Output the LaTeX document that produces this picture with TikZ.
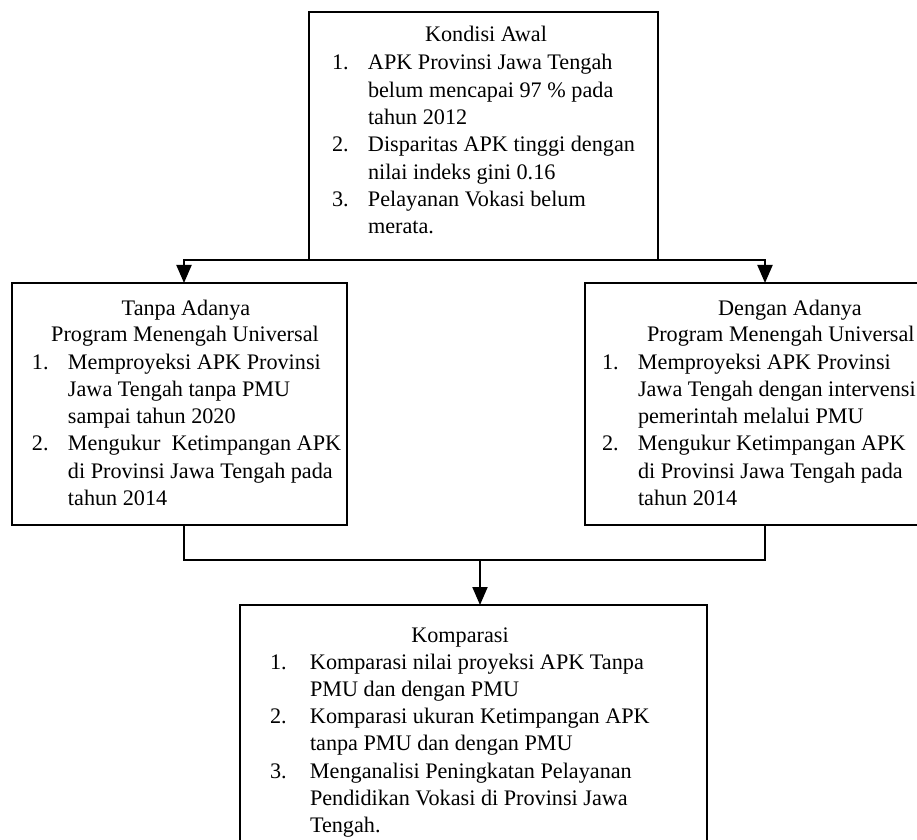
\documentclass[tikz,border=0pt]{standalone}
\usepackage{fontspec}
\setmainfont{Liberation Serif}
\usetikzlibrary{arrows.meta}
\newcommand\numbox[2]{\makebox[#1][l]{#2}}
\begin{document}
\begin{tikzpicture}[x=0.5pt,y=-0.5pt,
 box/.style={draw, line width=0.9pt, inner sep=0pt, outer sep=0pt, anchor=north west},
 txt/.style={inner sep=0pt, outer sep=0pt, font=\fontsize{11.1pt}{13.65pt}\selectfont},
 conn/.style={line width=1pt},
 tip/.tip={Triangle[width=7.5pt,length=9pt]},
 arr/.style={conn, -tip}]
\useasboundingbox (0,0) rectangle (917,840);
\clip (0,0) rectangle (917,840);
% boxes
\node[box, minimum width=174.5pt, minimum height=124pt] (top) at (309,12) {};
\node[box, minimum width=167.5pt, minimum height=121pt] (left) at (12,283) {};
\node[box, minimum width=175pt, minimum height=121pt] (right) at (585,283) {};
\node[box, minimum width=233.5pt, minimum height=125pt] (bot) at (240,605) {};
% connectors
\coordinate (la) at (184,283);
\coordinate (ta) at (184,260);
\coordinate (tb) at (765,260);
\coordinate (ra) at (765,283);
\draw[conn, tip-tip] (la) -- (ta) -- (tb) -- (ra);
\coordinate (lb) at (184,525);
\coordinate (lm) at (184,560);
\coordinate (rm) at (765,560);
\coordinate (rb) at (765,525);
\draw[conn] (lb) -- (lm) -- (rm) -- (rb);
\coordinate (mm) at (480,560);
\coordinate (ba) at (480,605);
\draw[arr] (mm) -- (ba);
% top text
\node[txt, anchor=base] (t0) at (486,42) {Kondisi Awal};
\node[txt, anchor=base west] (t1) at (332,70) {\begin{tabular}[t]{@{}l@{}l@{}}
\numbox{18pt}{1.}&APK Provinsi Jawa Tengah\\
&belum mencapai 97 \% pada\\
&tahun 2012\\
\numbox{18pt}{2.}&Disparitas APK tinggi dengan\\
&nilai indeks gini 0.16\\
\numbox{18pt}{3.}&Pelayanan Vokasi belum\\
&merata.
\end{tabular}};
% left text
\node[txt, anchor=base] (l0) at (186,315) {Tanpa Adanya};
\node[txt, anchor=base] (l1) at (185,342) {Program Menengah Universal};
\node[txt, anchor=base west] (l2) at (32,369) {\begin{tabular}[t]{@{}l@{}l@{}}
\numbox{18pt}{1.}&Memproyeksi APK Provinsi\\
&Jawa Tengah tanpa PMU\\
&sampai tahun 2020\\
\numbox{18pt}{2.}&Mengukur~ Ketimpangan APK\\
&di Provinsi Jawa Tengah pada\\
&tahun 2014
\end{tabular}};
% right text
\node[txt, anchor=base] (r0) at (790,315) {Dengan Adanya};
\node[txt, anchor=base west] (r1) at (647,342) {Program Menengah Universal};
\node[txt, anchor=base west] (r2) at (602,369) {\begin{tabular}[t]{@{}l@{}l@{}}
\numbox{18pt}{1.}&Memproyeksi APK Provinsi\\
&Jawa Tengah dengan intervensi\\
&pemerintah melalui PMU\\
\numbox{18pt}{2.}&Mengukur Ketimpangan APK\\
&di Provinsi Jawa Tengah pada\\
&tahun 2014
\end{tabular}};
% bottom text
\node[txt, anchor=base] (b0) at (460,642) {Komparasi};
\node[txt, anchor=base west] (b1) at (270,669) {\begin{tabular}[t]{@{}l@{}l@{}}
\numbox{20pt}{1.}&Komparasi nilai proyeksi APK Tanpa\\
&PMU dan dengan PMU\\
\numbox{20pt}{2.}&Komparasi ukuran Ketimpangan APK\\
&tanpa PMU dan dengan PMU\\
\numbox{20pt}{3.}&Menganalisi Peningkatan Pelayanan\\
&Pendidikan Vokasi di Provinsi Jawa\\
&Tengah.
\end{tabular}};
\end{tikzpicture}
\end{document}
